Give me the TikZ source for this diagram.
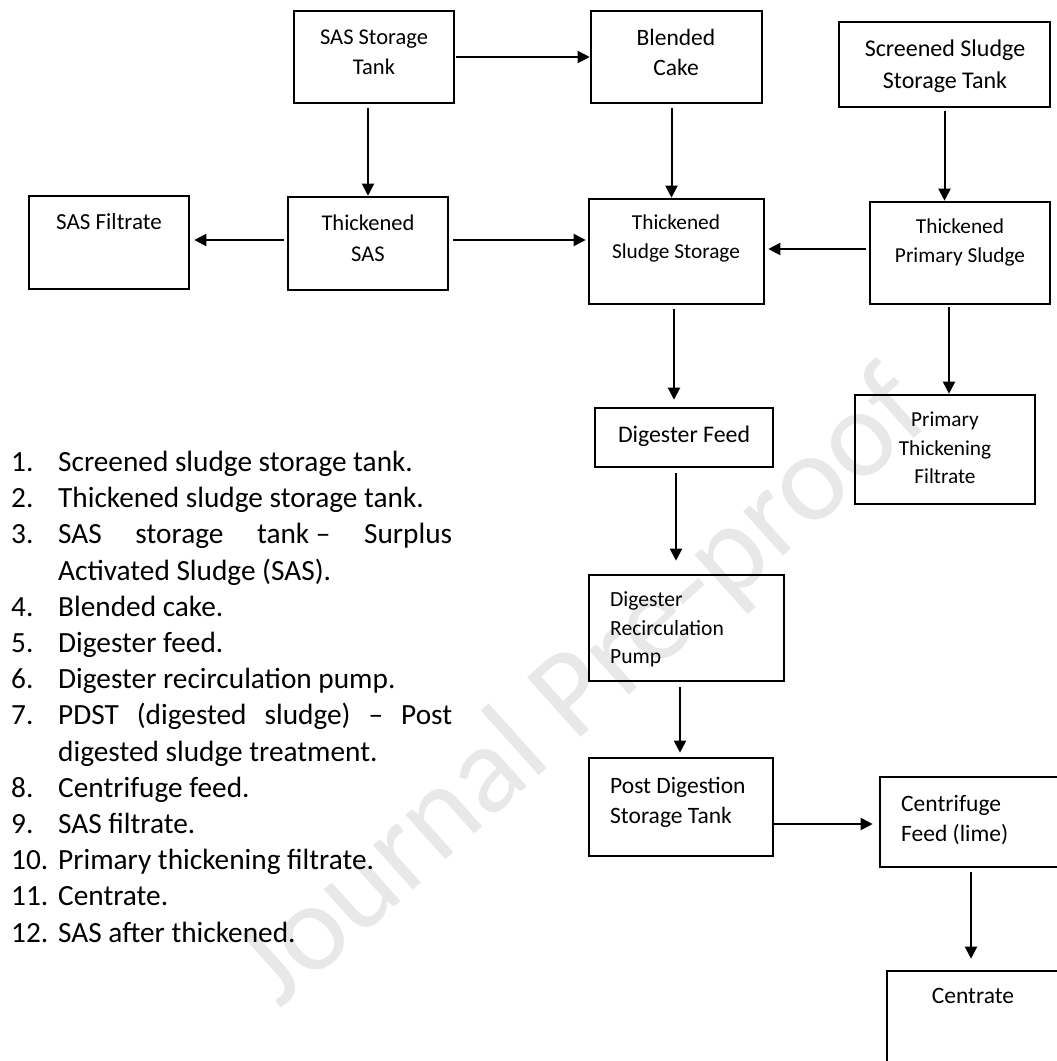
\documentclass[tikz,border=0pt]{standalone}
\usepackage{fontspec}
\setmainfont{Carlito}
\usetikzlibrary{arrows.meta}
\begin{document}
\begin{tikzpicture}[x=1pt,y=-1pt,
  box/.style={draw, line width=2.6pt, inner sep=0pt},
  arr/.style={line width=2pt, -{Triangle[length=12pt,width=12pt]}},
  lbl/.style={inner sep=0pt, font=\fontsize{23.5}{30}\selectfont, align=center, anchor=north},
  lbll/.style={inner sep=0pt, font=\fontsize{23.5}{30}\selectfont, align=left, anchor=north west},
  num/.style={inner sep=0pt, font=\fontsize{29.3}{36}\selectfont, anchor=base west},
  itm/.style={inner sep=0pt, font=\fontsize{29.3}{36}\selectfont, anchor=base west},
  wmark/.style={inner sep=0pt, text=black!9, rotate=42, font=\fontsize{125}{125}\selectfont}]
\useasboundingbox (0,0) rectangle (1057,1061);
\fill[white] (0,0) rectangle (1057,1061);
% watermark
\node[wmark] (wm) at (585,690) {Journal Pre-proof};
% boxes
\node[box, minimum width=160pt, minimum height=92pt] (sst) at (374,57) {};
\node[box, minimum width=171pt, minimum height=92pt] (blend) at (676.5,57) {};
\node[box, minimum width=211pt, minimum height=85pt] (scr) at (944.5,64.5) {};
\node[box, minimum width=160pt, minimum height=93pt] (filt) at (109,242.5) {};
\node[box, minimum width=160pt, minimum height=93pt] (tsas) at (368,243.5) {};
\node[box, minimum width=175pt, minimum height=105pt] (tss) at (676.5,251.5) {};
\node[box, minimum width=180pt, minimum height=102pt] (tps) at (960,253) {};
\node[box, minimum width=178pt, minimum height=59pt] (df) at (684,437.5) {};
\node[box, minimum width=180pt, minimum height=109pt] (ptf) at (945,449.5) {};
\node[box, minimum width=195pt, minimum height=106pt] (drp) at (686.5,628) {};
\node[box, minimum width=184pt, minimum height=98pt] (pdst) at (681,807) {};
\node[box, minimum width=220pt, minimum height=90pt] (cf) at (990,822) {};
\node[box, minimum width=213pt, minimum height=149pt] (cen) at (993.5,1045.5) {};
% box texts
\node[lbl, font=\fontsize{22.5}{30}\selectfont] (sstT) at (374,29.5) {SAS Storage\\Tank};
\node[lbl] (blendT) at (676,29) {Blended\\Cake};
\node[lbl, font=\fontsize{24}{32}\selectfont] (scrT) at (945,40) {Screened Sludge\\Storage Tank};
\node[lbl, font=\fontsize{23}{30}\selectfont] (filtT) at (109,213.5) {SAS Filtrate};
\node[lbl, font=\fontsize{22.5}{31}\selectfont] (tsasT) at (368,214.5) {Thickened\\SAS};
\node[lbl, font=\fontsize{21.3}{29}\selectfont] (tssT) at (676,214.5) {Thickened\\Sludge Storage};
\node[lbl, font=\fontsize{21.3}{29}\selectfont] (tpsT) at (960,218.5) {Thickened\\Primary Sludge};
\node[lbl, font=\fontsize{23.8}{30}\selectfont] (dfT) at (684,426) {Digester Feed};
\node[lbl, font=\fontsize{21.3}{28.7}\selectfont] (ptfT) at (945,411.5) {Primary\\Thickening\\Filtrate};
\node[lbll, font=\fontsize{21.6}{28.7}\selectfont] (drpT) at (610,591.5) {Digester\\Recirculation\\Pump};
\node[lbll] (pdstT) at (610,777) {Post Digestion\\Storage Tank};
\node[lbll] (cfT) at (901,795) {Centrifuge\\Feed (lime)};
\node[lbl] (cenT) at (973,988.5) {Centrate};
% connectors
\draw[arr, shorten <=4pt] (sst.south -| tsas.north) -- (tsas.north);
\draw[arr, shorten <=1pt] (sst.east) -- (blend.west |- sst.east);
\draw[arr, shorten <=4pt, transform canvas={xshift=-5pt}] (blend.south) -- (blend.south |- tss.north);
\draw[arr, shorten <=3pt] (scr.south) -- (scr.south |- tps.north);
\draw[arr, shorten <=3pt, shorten >=4pt, transform canvas={yshift=3.5pt}] (tsas.west) -- (filt.east |- tsas.west);
\draw[arr, shorten <=4pt, shorten >=2pt, transform canvas={yshift=3.5pt}] (tsas.east) -- (tss.west |- tsas.east);
\draw[arr, shorten <=3pt, shorten >=3pt, transform canvas={yshift=4pt}] (tps.west) -- (tss.east |- tps.west);
\draw[arr, shorten <=4pt, shorten >=7pt, transform canvas={xshift=-2.5pt}] (tss.south) -- (tss.south |- df.north);
\draw[arr, shorten <=2pt, transform canvas={xshift=4pt}] (ptf.north |- tps.south) -- (ptf.north);
\draw[arr, shorten <=5pt, shorten >=13pt, transform canvas={xshift=-8pt}] (df.south) -- (df.south |- drp.north);
\draw[arr, shorten <=5pt, shorten >=4pt, transform canvas={xshift=-1pt}] (pdst.north |- drp.south) -- (pdst.north);
\draw[arr, shorten >=6pt, transform canvas={yshift=-2pt}] (pdst.east |- cf.west) -- (cf.west);
\draw[arr, shorten <=4pt, shorten >=11pt, transform canvas={xshift=-19pt}] (cf.south) -- (cf.south |- cen.north);
% legend list
\node[num] (n1) at (11,471.5) {1.};
\node[itm] (l1) at (58,471.5) {Screened sludge storage tank.};
\node[num] (n2) at (11,507.7) {2.};
\node[itm] (l2) at (58,507.7) {Thickened sludge storage tank.};
\node[num] (n3) at (11,543.9) {3.};
\node[itm] (l3) at (58,543.9) {\hbox to 394pt{SAS\hfil storage\hfil tank~–\hfil Surplus}};
\node[itm] (l3b) at (58,580.1) {Activated Sludge (SAS).};
\node[num] (n4) at (11,616.3) {4.};
\node[itm] (l4) at (58,616.3) {Blended cake.};
\node[num] (n5) at (11,652.5) {5.};
\node[itm] (l5) at (58,652.5) {Digester feed.};
\node[num] (n6) at (11,688.7) {6.};
\node[itm] (l6) at (58,688.7) {Digester recirculation pump.};
\node[num] (n7) at (11,724.9) {7.};
\node[itm] (l7) at (58,724.9) {\hbox to 394pt{PDST\hfil (digested\hfil sludge)\hfil –\hfil Post}};
\node[itm] (l7b) at (58,761.1) {digested sludge treatment.};
\node[num] (n8) at (11,797.3) {8.};
\node[itm] (l8) at (58,797.3) {Centrifuge feed.};
\node[num] (n9) at (11,833.5) {9.};
\node[itm] (l9) at (58,833.5) {SAS filtrate.};
\node[num] (n10) at (11,869.7) {10.};
\node[itm] (l10) at (58,869.7) {Primary thickening filtrate.};
\node[num] (n11) at (11,905.9) {11.};
\node[itm] (l11) at (58,905.9) {Centrate.};
\node[num] (n12) at (11,942.1) {12.};
\node[itm] (l12) at (58,942.1) {SAS after thickened.};
\end{tikzpicture}
\end{document}
